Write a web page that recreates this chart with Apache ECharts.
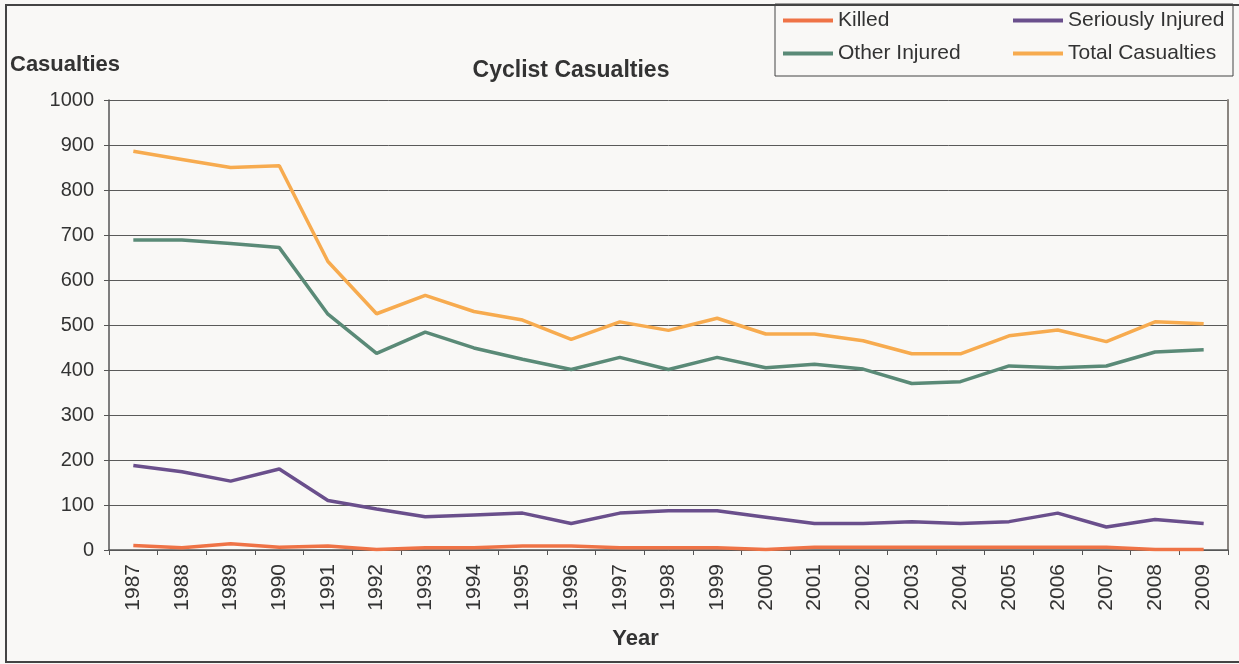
<!DOCTYPE html>
<html>
<head>
<meta charset="utf-8">
<script src="https://cdn.jsdelivr.net/npm/echarts@6/dist/echarts.min.js"></script>
<style>
  html, body { margin: 0; padding: 0; background: #f9f8f6; }
  #chart { width: 1239px; height: 664px; }
</style>
</head>
<body>
<div id="chart"></div>
<script>
  // values
  const years = ['1987', '1988', '1989', '1990', '1991', '1992', '1993', '1994', '1995', '1996', '1997', '1998',
    '1999', '2000', '2001', '2002', '2003', '2004', '2005', '2006', '2007', '2008', '2009'];
  const killed = [10, 5, 14, 6, 9, 1, 5, 5, 9, 9, 5, 5, 5, 1, 6, 6, 6, 6, 6, 6, 6, 1, 1];
  const seriouslyInjured = [188, 174, 153, 180, 110, 91, 74, 78, 82, 59, 82, 87, 87, 73, 59, 59, 63, 59, 63, 82, 51, 68, 59];
  const otherInjured = [689, 689, 681, 672, 524, 437, 484, 449, 424, 401, 428, 401, 428, 405, 413, 402, 370, 374, 409, 405, 409, 440, 445];
  const totalCasualties = [886, 868, 850, 854, 641, 525, 566, 530, 511, 468, 507, 488, 515, 480, 480, 465, 436, 436, 476, 489, 463, 507, 503];

  const font = 'Liberation Sans, Arial, sans-serif';
  const legendIcon = 'path://M0,0 L50,0 L50,4 L0,4 Z';

  const chart = echarts.init(document.getElementById('chart'));

  const makeLine = (name, data, color) => ({
    name,
    type: 'line',
    data,
    symbol: 'none',
    lineStyle: { color, width: 3.5 },
    itemStyle: { color },
    animation: false,
  });

  const legendBase = {
    orient: 'vertical',
    top: 10,
    padding: 0,
    itemWidth: 50,
    itemHeight: 4,
    itemGap: 12,
    icon: legendIcon,
    textStyle: { fontFamily: font, fontSize: 21, color: '#333' },
  };

  chart.setOption({
    backgroundColor: '#f9f8f6',
    animation: false,
    title: {
      text: 'Cyclist Casualties',
      left: 566,
      textAlign: 'center',
      top: 54,
      textStyle: { fontFamily: font, fontSize: 23, fontWeight: 'bold', color: '#333' },
    },
    graphic: [
      {
        type: 'rect',
        shape: { x: 6, y: 5, width: 1240, height: 657 },
        style: { fill: 'none', stroke: '#444', lineWidth: 2 },
        silent: true,
      },
      {
        type: 'rect',
        shape: { x: 775, y: 4, width: 458, height: 72 },
        style: { fill: '#f9f8f6', stroke: '#444', lineWidth: 1 },
        silent: true,
        z: -1,
      },
    ],
    legend: [
      Object.assign({}, legendBase, { left: 783, data: ['Killed', 'Other Injured'] }),
      Object.assign({}, legendBase, { left: 1013, data: ['Seriously Injured', 'Total Casualties'] }),
    ],
    grid: {
      left: 109,
      right: 11,
      top: 100,
      bottom: 114,
    },
    xAxis: {
      type: 'category',
      data: years,
      boundaryGap: true,
      name: 'Year',
      nameLocation: 'middle',
      nameGap: 78,
      nameTextStyle: {
        fontFamily: font, fontSize: 22, fontWeight: 'bold', color: '#333',
        padding: [0, 66, 0, 0],
      },
      axisLine: { lineStyle: { color: '#555', width: 1.5 } },
      axisTick: { show: true, length: 5, lineStyle: { color: '#555' } },
      axisLabel: { rotate: 90, margin: 14, fontFamily: font, fontSize: 21, color: '#333' },
    },
    yAxis: [
      {
        type: 'value',
        min: 0,
        max: 1000,
        interval: 100,
        name: 'Casualties',
        nameLocation: 'end',
        nameGap: 0,
        nameTextStyle: {
          fontFamily: font, fontSize: 22, fontWeight: 'bold', color: '#333',
          align: 'left', padding: [0, 0, 24, -99],
        },
        axisLine: { show: true, lineStyle: { color: '#555', width: 1.5 } },
        axisTick: { show: true, length: 5, lineStyle: { color: '#555' } },
        axisLabel: {
          margin: 15, fontFamily: font, fontSize: 20, color: '#333',
          formatter: (v) => String(v),
        },
        splitLine: { show: true, lineStyle: { color: '#5a5a5a', width: 1 } },
      },
      {
        // right border of the plot area
        type: 'value',
        min: 0,
        max: 1000,
        position: 'right',
        axisLine: { show: true, lineStyle: { color: '#8a8580', width: 2 } },
        axisTick: { show: false },
        axisLabel: { show: false },
        splitLine: { show: false },
      },
    ],
    series: [
      makeLine('Killed', killed, '#ef7346'),
      makeLine('Seriously Injured', seriouslyInjured, '#6a4f8c'),
      makeLine('Other Injured', otherInjured, '#5a8a77'),
      makeLine('Total Casualties', totalCasualties, '#f7ab4f'),
    ],
  });
</script>
</body>
</html>
